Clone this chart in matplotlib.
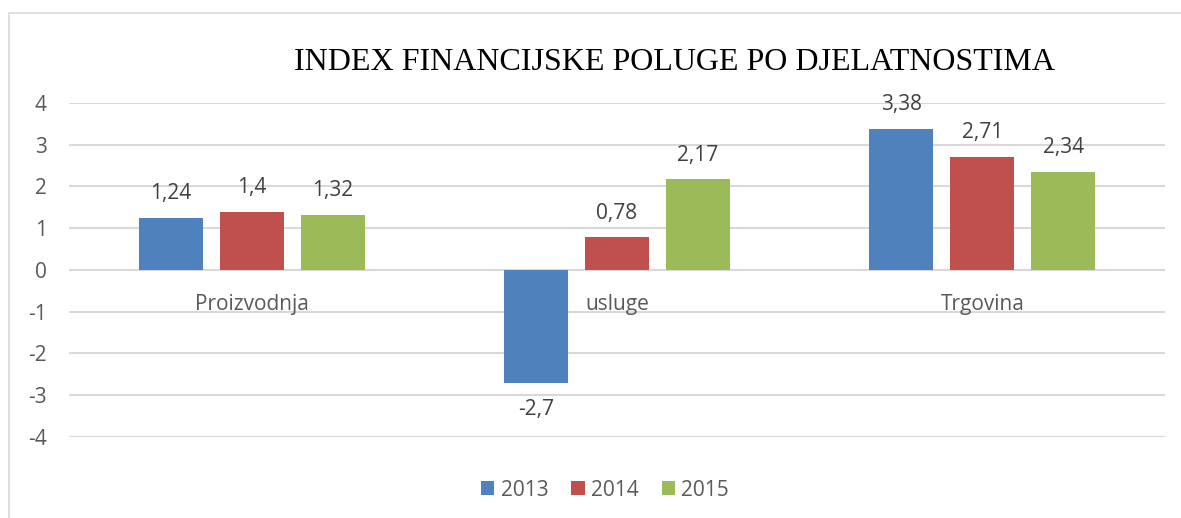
import matplotlib.pyplot as plt
from matplotlib.patches import Rectangle
import numpy as np

categories = ["Proizvodnja", "usluge", "Trgovina"]
years = ["2013", "2014", "2015"]
v2013 = [1.24, -2.7, 3.38]
v2014 = [1.4, 0.78, 2.71]
v2015 = [1.32, 2.17, 2.34]
labels2013 = ["1,24", "-2,7", "3,38"]
labels2014 = ["1,4", "0,78", "2,71"]
labels2015 = ["1,32", "2,17", "2,34"]
yticks = [4, 3, 2, 1, 0, -1, -2, -3, -4]

colors = ["#4f81bd", "#c0504d", "#9bbb59"]
txt = "#595959"
font = ["Open Sans", "DejaVu Sans"]
fs = 15

fig = plt.figure(figsize=(11.81, 5.18), dpi=100)
ax = fig.add_axes([69 / 1181, 1 - 437 / 518, 1096 / 1181, 334 / 518])

# rahmen oko grafikona
fig.patches.append(Rectangle((9 / 1181, -0.1), 1.2, 1 - 13 / 518 + 0.1,
                             transform=fig.transFigure, fill=False,
                             edgecolor="#d9d9d9", linewidth=1.2))

x = np.arange(len(categories))
w = 0.175
step = 0.222
series = [v2013, v2014, v2015]
lbls = [labels2013, labels2014, labels2015]
for i, (vals, lab) in enumerate(zip(series, lbls)):
    bars = ax.bar(x + (i - 1) * step, vals, w, color=colors[i], label=years[i], zorder=3)
    for b, v, t in zip(bars, vals, lab):
        off = 17.5 if v >= 0 else -19.5
        ax.annotate(t, (b.get_x() + b.get_width() / 2, v), xytext=(0, off),
                    textcoords="offset points", ha="center", va="center",
                    fontsize=fs, color="#404040", family=font)

# nazivi kategorija ispod nule
for xi, c in zip(x, categories):
    ax.annotate(c, (xi, 0), xytext=(0, -25), textcoords="offset points",
                ha="center", va="center", fontsize=fs, color=txt, family=font)

ax.set_xlim(-0.5, 2.5)
ax.set_ylim(-4, 4)
ax.set_yticks(yticks)
ax.set_yticklabels([str(t) for t in yticks], fontsize=fs, color=txt, family=font)
ax.set_xticks([])
ax.tick_params(axis="y", length=0, pad=16)
ax.grid(axis="y", color="#d9d9d9", linewidth=1.5, zorder=0)
for s in ax.spines.values():
    s.set_visible(False)

fig.text(675 / 1181, 1 - 62 / 518, "INDEX FINANCIJSKE POLUGE PO DJELATNOSTIMA",
         ha="center", va="center", fontsize=23, family="Liberation Serif", color="black")

leg = fig.legend(loc="center", bbox_to_anchor=(605 / 1181, 1 - 490 / 518), ncol=3,
                 frameon=False, prop={"family": font, "size": fs},
                 handlelength=0.65, handleheight=0.65, columnspacing=1.1, handletextpad=0.3)
for t in leg.get_texts():
    t.set_color(txt)

plt.savefig("out.png", format="png")
